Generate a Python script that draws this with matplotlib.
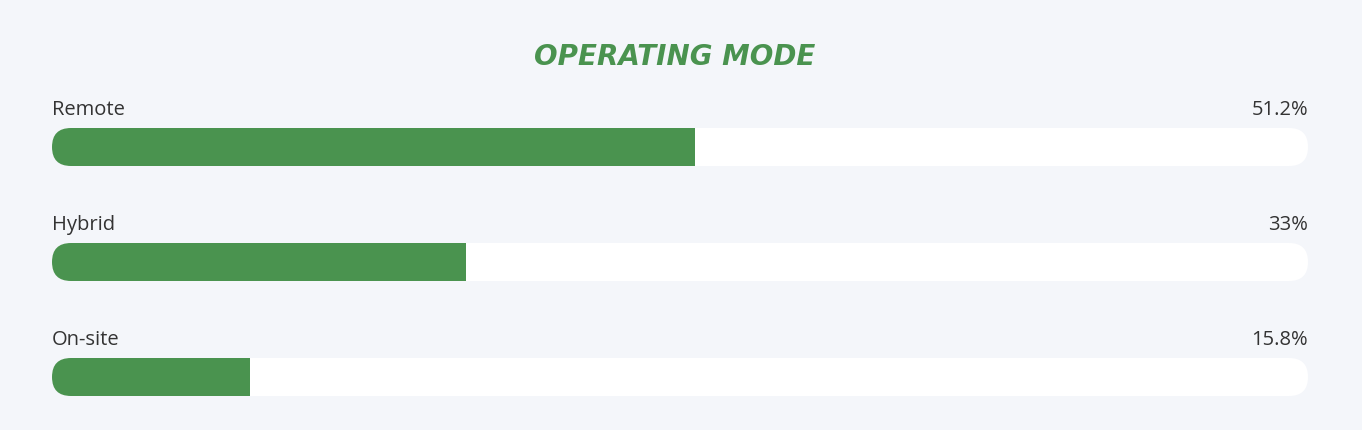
import matplotlib.pyplot as plt
from matplotlib.patches import FancyBboxPatch, Rectangle

# data
modes = ['Remote', 'Hybrid', 'On-site']
shares = [51.2, 33, 15.8]
share_labels = ['51.2%', '33%', '15.8%']

BG = '#f4f6fa'
GREEN = '#4a934f'
TEXT = '#333333'

W, H = 1362, 430
fig = plt.figure(figsize=(W / 100, H / 100), dpi=100)
fig.patch.set_facecolor(BG)

left, right = 52, 1308
ax = fig.add_axes([left / W, 0, (right - left) / W, 1])
ax.set_xlim(0, 100)
ax.set_ylim(H, 0)   # y in pixels from the top
ax.axis('off')

px_per_x = (right - left) / 100
bar_h = 38
rad = bar_h / 2
row0, step = 147, 115
style = f'round,pad=0,rounding_size={rad / px_per_x}'

for i, (name, val, lab) in enumerate(zip(modes, shares, share_labels)):
    yc = row0 + i * step
    top = yc - bar_h / 2
    # white track
    ax.add_patch(FancyBboxPatch((0, top), 100, bar_h, boxstyle=style,
                                mutation_aspect=px_per_x, fc='white', ec='none'))
    # green fill: rounded left end, square right end
    ax.add_patch(FancyBboxPatch((0, top), val / 2, bar_h, boxstyle=style,
                                mutation_aspect=px_per_x, fc=GREEN, ec='none'))
    ax.add_patch(Rectangle((val / 4, top), val * 3 / 4, bar_h, fc=GREEN, ec='none'))

    ax.text(0, top - 18, name, ha='left', va='center', fontsize=14.5,
            color=TEXT, family='Open Sans')
    ax.text(100, top - 18, lab, ha='right', va='center', fontsize=14.5,
            color=TEXT, family='Open Sans')

fig.text(675 / W, 1 - 57 / H, 'OPERATING MODE', ha='center', va='center',
         fontsize=20, fontweight='bold', fontstyle='italic', color=GREEN,
         family='DejaVu Sans')

fig.savefig('out.png', dpi=100, facecolor=BG)
